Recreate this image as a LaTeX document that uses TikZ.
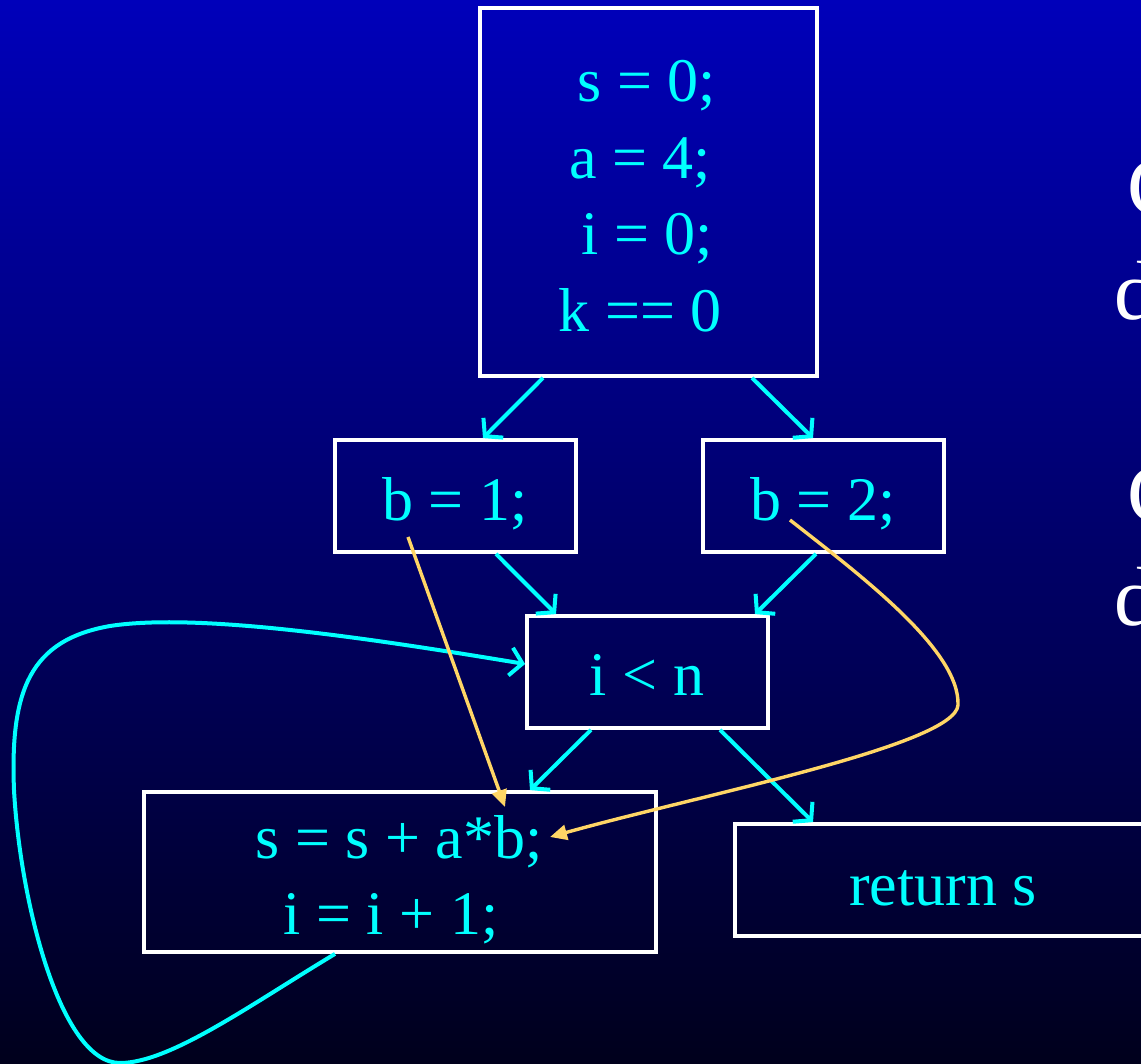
\documentclass[tikz,border=0pt]{standalone}
\usepackage{fontspec}
\setmainfont{Liberation Serif}
\usetikzlibrary{arrows.meta}
\definecolor{cy}{RGB}{0,255,255}
\definecolor{yl}{RGB}{255,214,102}
\definecolor{bgtop}{RGB}{0,0,186}
\definecolor{bgbot}{RGB}{0,0,28}
\begin{document}
\begin{tikzpicture}[x=1pt,y=-1pt,
  box/.style={draw=white,line width=3.8pt,inner sep=0pt},
  code/.style={text=cy,font=\fontsize{62}{76}\selectfont,inner sep=0pt,anchor=base},
  side/.style={text=white,font=\fontsize{84}{100}\selectfont,inner sep=0pt,anchor=base west},
  flow/.style={draw=cy,line width=4pt,-{Straight Barb[length=12pt,width=28pt,line width=4pt]}},
  dep/.style={draw=yl,line width=3.4pt,-{Triangle[length=17pt,width=15pt]}}]
\useasboundingbox (0,0) rectangle (1141,1064);
\shade[top color=bgtop,bottom color=bgbot] (0,0) rectangle (1141,1064);
\begin{scope}
\clip (0,0) rectangle (1141,1064);
% boxes
\node[box,minimum width=337pt,minimum height=368pt] (top) at (648.5,192) {};
\node[box,minimum width=241pt,minimum height=112pt] (b1) at (455.5,496) {};
\node[box,minimum width=241pt,minimum height=112pt] (b2) at (823.5,496) {};
\node[box,minimum width=241pt,minimum height=112pt] (loop) at (647.5,672) {};
\node[box,minimum width=512pt,minimum height=160pt] (body) at (400,872) {};
\node[box,minimum width=415pt,minimum height=112pt] (ret) at (942.5,880) {};
% texts
\node[code] (t1) at (647,102) {s = 0;};
\node[code] (t2) at (640,179) {a = 4;};
\node[code] (t3) at (647,255) {i = 0;};
\node[code] (t4) at (640,332) {k == 0};
\node[code] (tb1) at (455,520) {b = 1;};
\node[code] (tb2) at (823,520) {b = 2;};
\node[code] (tl) at (647,695) {i {\char`<} n};
\node[code] (tbody1) at (399,858) {s = s + a*b;};
\node[code] (tbody2) at (391,934) {i = i + 1;};
\node[code] (tret) at (943,905) {return s};
\node[side] (c1) at (1127,216) {C};
\node[side] (d1) at (1114,320) {d};
\node[side] (c2) at (1127,522) {C};
\node[side] (d2) at (1114,625) {d};
% control flow
\draw[flow] ([xshift=-105.5pt]top.south) -- ([xshift=27.5pt]b1.north);
\draw[flow] ([xshift=103.5pt]top.south) -- ([xshift=-10.5pt]b2.north);
\draw[flow] ([xshift=40.5pt]b1.south) -- ([xshift=-91.5pt]loop.north);
\draw[flow] ([xshift=-7.5pt]b2.south) -- ([xshift=107.5pt]loop.north);
\draw[flow] ([xshift=-56.5pt]loop.south) -- ([xshift=130pt]body.north);
\draw[flow] ([xshift=72.5pt]loop.south) -- ([xshift=-129.5pt]ret.north);
\draw[flow] ([xshift=-65pt]body.south)
  .. controls (250,1005) and (170,1063) .. (120,1063)
  .. controls (60,1063) and (20,900) .. (14,790)
  .. controls (10,690) and (30,640) .. (110,626)
  .. controls (200,612) and (380,640) .. ([yshift=8pt]loop.west);
% def-use
\draw[dep] ([shift={(-47.5,41)}]b1.center) -- ([shift={(105,-65)}]body.center);
\draw[dep] ([shift={(-33.5,24)}]b2.center)
  .. controls (860,575) and (960,650) .. (958,705)
  .. controls (956,745) and (700,795) .. ([shift={(150,-35)}]body.center);
\end{scope}
\end{tikzpicture}
\end{document}
